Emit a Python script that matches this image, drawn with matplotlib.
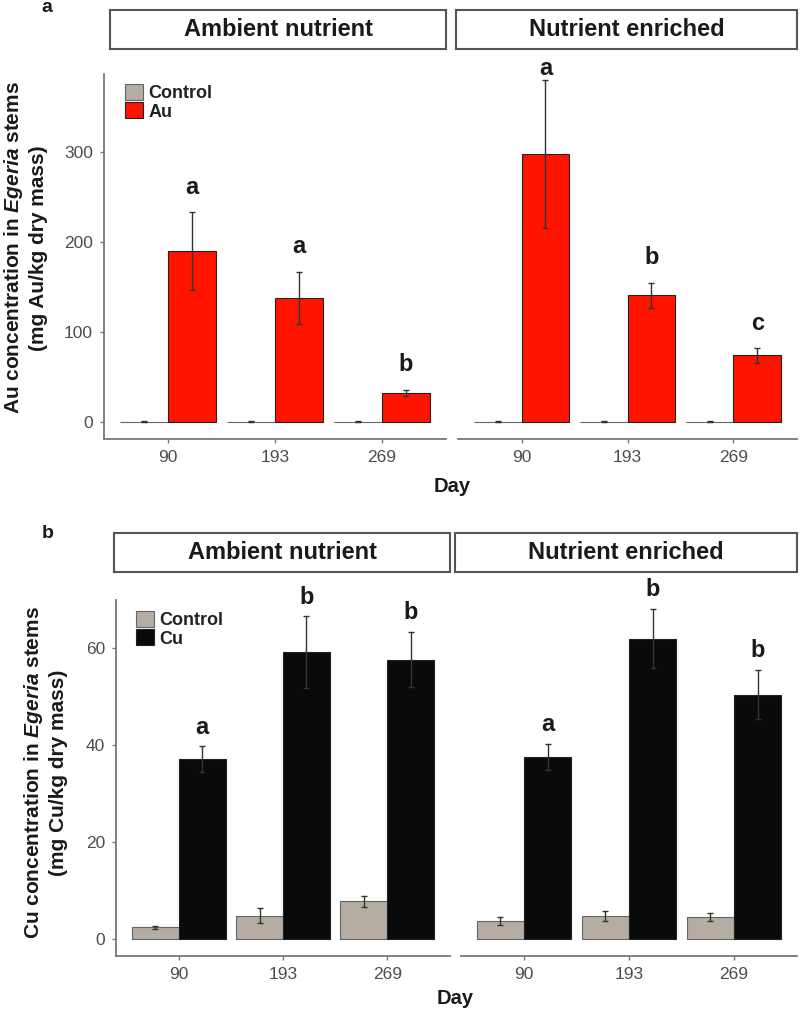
import numpy as np
import matplotlib.pyplot as plt

plt.rcParams['font.family'] = ['Liberation Sans', 'DejaVu Sans']
plt.rcParams['mathtext.fontset'] = 'custom'
plt.rcParams['mathtext.it'] = 'Liberation Sans:bold:italic'
plt.rcParams['mathtext.rm'] = 'Liberation Sans:bold'

days = ['90', '193', '269']
facets = ['Ambient nutrient', 'Nutrient enriched']

# panel a: gold (Au)
au_ctrl = [[0.4, 0.4, 0.4], [0.4, 0.4, 0.4]]
au_ctrl_se = [[0.2, 0.2, 0.2], [0.2, 0.2, 0.2]]
au_trt = [[190, 138, 32], [298, 141, 74]]
au_trt_se = [[43, 29, 3.5], [82, 14, 8]]
au_letters = [['a', 'a', 'b'], ['a', 'b', 'c']]

# panel b: copper (Cu)
cu_ctrl = [[2.4, 4.8, 7.8], [3.7, 4.8, 4.5]]
cu_ctrl_se = [[0.3, 1.5, 1.1], [0.8, 1.0, 0.8]]
cu_trt = [[37.1, 59.1, 57.6], [37.5, 61.9, 50.4]]
cu_trt_se = [[2.6, 7.4, 5.7], [2.7, 6.1, 5.1]]
cu_letters = [['a', 'b', 'b'], ['a', 'b', 'b']]

W, H = 800, 1009
fig = plt.figure(figsize=(8, 10.09), dpi=100)


def rect(x0, y0, x1, y1):
    return [x0 / W, 1 - y1 / H, (x1 - x0) / W, (y1 - y0) / H]


ctrl_col = '#b5aca3'
spine_col = '#777777'
err_kw = dict(ecolor='#333333', elinewidth=1, capsize=2, capthick=1)


def draw_panel(axes_px, strip_px, ctrl, ctrl_se, trt, trt_se, letters,
               trt_col, trt_name, ylim, yticks, offset, ymaxlab, leg_px):
    x = np.arange(len(days))
    axs = []
    for i, (ap, sp) in enumerate(zip(axes_px, strip_px)):
        ax = fig.add_axes(rect(*ap))
        ax.bar(x - 0.225, ctrl[i], 0.45, yerr=ctrl_se[i], color=ctrl_col,
               edgecolor='#666666', linewidth=0.8, error_kw=err_kw,
               label='Control')
        ax.bar(x + 0.225, trt[i], 0.45, yerr=trt_se[i], color=trt_col,
               edgecolor='#222222', linewidth=0.8, error_kw=err_kw,
               label=trt_name)
        for j in range(len(days)):
            ly = min(trt[i][j] + trt_se[i][j] + offset, ymaxlab)
            ax.text(x[j] + 0.225, ly, letters[i][j], ha='center',
                    va='center', fontsize=17, fontweight='bold',
                    color='#1a1a1a', clip_on=False)
        ax.set_xlim(-0.6, 2.6)
        ax.set_ylim(*ylim)
        ax.set_xticks(x)
        ax.set_xticklabels(days)
        ax.set_yticks(yticks)
        for s in ['top', 'right']:
            ax.spines[s].set_visible(False)
        for s in ['left', 'bottom']:
            ax.spines[s].set_color(spine_col)
            ax.spines[s].set_linewidth(1.3)
        ax.tick_params(colors=spine_col, labelcolor='#4d4d4d', length=3,
                       width=1, labelsize=12.5, pad=5)
        if i == 1:
            ax.spines['left'].set_visible(False)
            ax.tick_params(axis='y', left=False, labelleft=False)
        # strip
        sa = fig.add_axes(rect(*sp))
        sa.set_xticks([])
        sa.set_yticks([])
        for s in sa.spines.values():
            s.set_color('#555555')
            s.set_linewidth(1.5)
        sa.text(0.5, 0.5, facets[i], ha='center', va='center', fontsize=17,
                fontweight='bold', color='#1a1a1a', transform=sa.transAxes)
        axs.append(ax)
    axs[0].legend(loc='upper left', bbox_to_anchor=(leg_px[0] / W, 1 - leg_px[1] / H),
                  bbox_transform=fig.transFigure, frameon=False,
                  handlelength=1.0, handleheight=1.0, labelspacing=0,
                  handletextpad=0.3, borderpad=0, borderaxespad=0,
                  prop=dict(size=13, weight='bold'), labelcolor='#222222')
    return axs


draw_panel([(104, 74, 446, 439), (458, 74, 797, 439)],
           [(110, 10, 446, 49), (456, 10, 797, 49)],
           au_ctrl, au_ctrl_se, au_trt, au_trt_se, au_letters,
           '#ff1400', 'Au', (-19, 387), [0, 100, 200, 300], 28, 393,
           (125, 84))

draw_panel([(116, 600, 450, 956), (461, 600, 797, 956)],
           [(114, 533, 450, 572), (455, 533, 797, 572)],
           cu_ctrl, cu_ctrl_se, cu_trt, cu_trt_se, cu_letters,
           '#0a0a0a', 'Cu', (-3.5, 69.9), [0, 20, 40, 60], 4, 100,
           (136, 611))

fig.text(25 / W, 1 - 248 / H,
         'Au concentration in $\\mathit{Egeria}$ stems\n(mg Au/kg dry mass)',
         rotation=90, ha='center', va='center', fontsize=15,
         fontweight='bold', color='#1a1a1a', multialignment='center')
fig.text(45 / W, 1 - 773 / H,
         'Cu concentration in $\\mathit{Egeria}$ stems\n(mg Cu/kg dry mass)',
         rotation=90, ha='center', va='center', fontsize=15,
         fontweight='bold', color='#1a1a1a', multialignment='center')

fig.text(452 / W, 1 - 487 / H, 'Day', ha='center', va='center', fontsize=14.5,
         fontweight='bold', color='#1a1a1a')
fig.text(455 / W, 1 - 998 / H, 'Day', ha='center', va='center', fontsize=14.5,
         fontweight='bold', color='#1a1a1a')
fig.text(47 / W, 1 - 8 / H, 'a', ha='center', va='center', fontsize=14,
         fontweight='bold', color='#1a1a1a')
fig.text(48 / W, 1 - 533 / H, 'b', ha='center', va='center', fontsize=14,
         fontweight='bold', color='#1a1a1a')

fig.savefig('out.png', dpi=100)
